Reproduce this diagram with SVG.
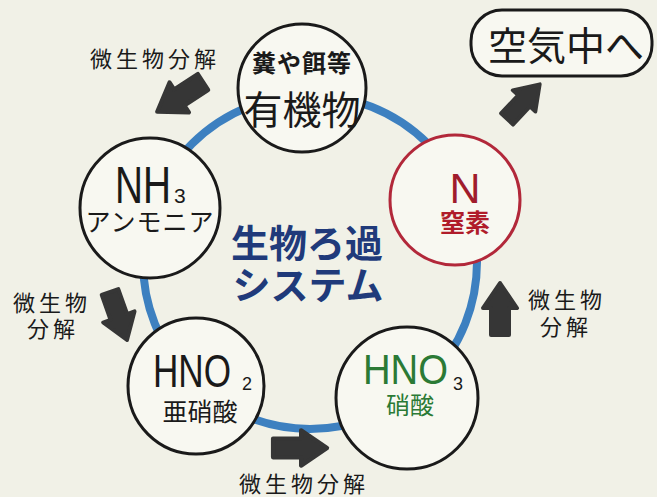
<svg xmlns="http://www.w3.org/2000/svg" width="657" height="497" viewBox="0 0 657 497">
<style>
.jp{font-family:"Noto Sans CJK JP","Noto Sans",sans-serif}
.lat{font-family:"Liberation Sans","DejaVu Sans",sans-serif}
.node{fill:#f8f8f1;stroke:#1a1a1a;stroke-width:3}
.lbl{font-size:22px;fill:#1a1a1a;text-anchor:middle;letter-spacing:4px}
.arrow{fill:#363636;stroke:#363636;stroke-width:4;stroke-linejoin:round}
</style>
<defs>
<path id="arr" d="M0,-9 L27,-9 L27,-17 L52,0 L27,17 L27,9 L0,9 Z"/>
</defs>
<rect width="657" height="497" fill="#f1f1e7"/>
<g id="connectors">
<circle cx="310" cy="262" r="167" fill="none" stroke="#3d80c0" stroke-width="8"/>
<use href="#arr" class="arrow" transform="translate(203,82) rotate(147) scale(1.05)"/>
<use href="#arr" class="arrow" transform="translate(110,292) rotate(70.5) scale(0.98)"/>
<use href="#arr" class="arrow" transform="translate(273,448) scale(1.04)"/>
<use href="#arr" class="arrow" transform="translate(500,335) rotate(-90) scale(1)"/>
<use href="#arr" class="arrow" transform="translate(507,119) rotate(-46.7) scale(0.92)"/>
<text class="jp lbl" x="155" y="67">微生物分解</text>
<text class="jp lbl" x="52" y="311">微生物</text>
<text class="jp lbl" x="53" y="337">分解</text>
<text class="jp lbl" x="304" y="492">微生物分解</text>
<text class="jp lbl" x="567" y="308">微生物</text>
<text class="jp lbl" x="566" y="335">分解</text>
</g>
<g id="node-organic">
<circle class="node" cx="302" cy="88" r="64"/>
<text class="jp" x="302" y="72" font-size="24" font-weight="bold" text-anchor="middle" fill="#1a1a1a" letter-spacing="1">糞や餌等</text>
<text class="jp" x="302" y="124" font-size="39" text-anchor="middle" fill="#1a1a1a">有機物</text>
</g>
<g id="node-nh3">
<circle class="node" cx="150" cy="208" r="70"/>
<text class="lat" x="115" y="203" fill="#1a1a1a"><tspan font-size="52" textLength="56" lengthAdjust="spacingAndGlyphs">NH</tspan><tspan x="174" font-size="21">3</tspan></text>
<text class="jp" x="150" y="231" font-size="25" text-anchor="middle" fill="#1a1a1a" letter-spacing="1">アンモニア</text>
</g>
<g id="node-n">
<circle cx="455" cy="200" r="65" fill="#f8f8f1" stroke="#b2283a" stroke-width="3"/>
<text class="lat" x="465" y="203" font-size="43" text-anchor="middle" fill="#a01c2c">N</text>
<text class="jp" x="465" y="232" font-size="25" font-weight="bold" text-anchor="middle" fill="#b01c2a">窒素</text>
</g>
<g id="node-hno2">
<circle class="node" cx="196" cy="386" r="68"/>
<text class="lat" x="153" y="387" fill="#1a1a1a"><tspan font-size="47" textLength="78" lengthAdjust="spacingAndGlyphs">HNO</tspan><tspan x="242" y="390" font-size="18">2</tspan></text>
<text class="jp" x="200" y="421" font-size="25" text-anchor="middle" fill="#1a1a1a">亜硝酸</text>
</g>
<g id="node-hno3">
<circle class="node" cx="407" cy="398" r="71"/>
<text class="lat" x="363" y="384" fill="#2b7a35"><tspan font-size="43" textLength="85" lengthAdjust="spacingAndGlyphs">HNO</tspan><tspan x="453" y="390" font-size="18" fill="#1a1a1a">3</tspan></text>
<text class="jp" x="410" y="414" font-size="24" text-anchor="middle" fill="#2b7a35">硝酸</text>
</g>
<g id="node-air">
<rect x="471" y="10" width="181" height="66" rx="31" fill="#f8f8f1" stroke="#1a1a1a" stroke-width="3"/>
<text class="jp" x="566" y="60" font-size="39" text-anchor="middle" fill="#1a1a1a">空気中へ</text>
</g>
<g id="title">
<text class="jp" x="307" y="257" font-size="38" font-weight="bold" text-anchor="middle" fill="#203a7a">生物ろ過</text>
<text class="jp" x="308" y="299" font-size="38" font-weight="bold" text-anchor="middle" fill="#203a7a">システム</text>
</g>
</svg>
